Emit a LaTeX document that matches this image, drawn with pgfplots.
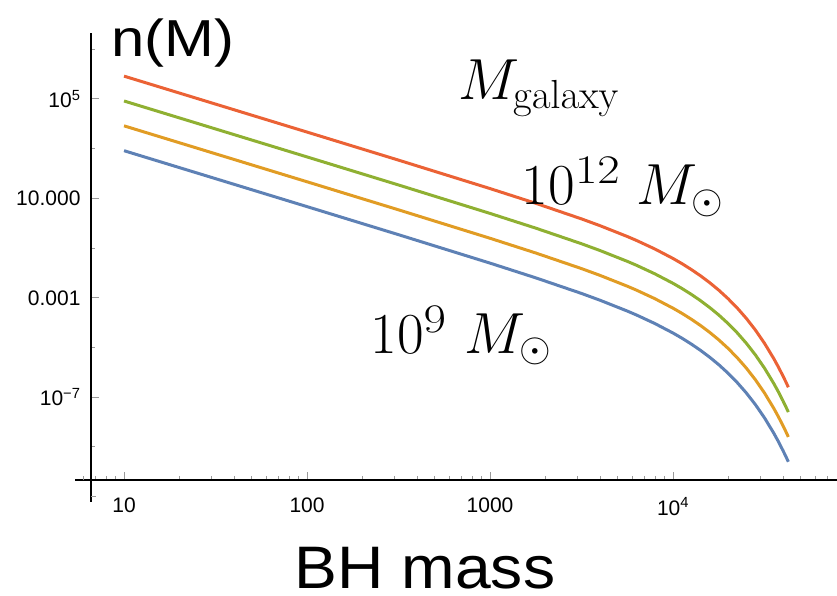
\RequirePackage{fix-cm}
\documentclass[border=0pt]{standalone}
\usepackage[no-math]{fontspec}
\setmainfont{Liberation Sans}
\usepackage{pgfplots}
\pgfplotsset{compat=1.18}
\definecolor{mblue}{RGB}{94,129,181}
\definecolor{morange}{RGB}{225,156,36}
\definecolor{mgreen}{RGB}{143,176,50}
\definecolor{mred}{RGB}{235,98,53}
\newcommand{\wsup}[1]{\scalebox{1.2}[1]{$\scriptstyle #1$}}
\begin{document}
\begin{tikzpicture}
\useasboundingbox (0,0) rectangle (837pt,596pt);
\begin{axis}[
  at={(91pt,116pt)}, anchor=south west,
  scale only axis, width=746pt, height=447pt,
  xmode=log, ymode=log,
  xmin=6.60, xmax=78700, ymin=4.66e-11, ymax=4.53e7,
  axis x line*=bottom, axis y line*=left,
  axis line style={black, line width=2.4pt, -},
  clip=false,
  tick align=inside,
  major tick length=8pt, minor tick length=4.5pt,
  tick style={gray!80, line width=1pt},
  xtick={10,100,1000,10000},
  xticklabels={10,100,1000,\raisebox{4pt}{10\textsuperscript{4}}},
  minor xtick={7,8,9,20,30,40,50,60,70,80,90,200,300,400,500,600,700,800,900,2000,3000,4000,5000,6000,7000,8000,9000,20000,30000,40000,50000,60000,70000},
  ytick={1e5,10,1e-3,1e-7},
  yticklabels={10\textsuperscript{5},10.000,0.001,10\textsuperscript{−7}},
  minor ytick={1e7,1e3,1e-1,1e-5,1e-9},
  xticklabel style={font=\fontsize{21}{25}\selectfont, anchor=north, yshift=-14pt},
  yticklabel style={font=\fontsize{21}{25}\selectfont, anchor=east, xshift=-7pt},
]
\draw[black, line width=2.4pt] (axis cs:5.4,4.66e-11) -- (axis cs:7,4.66e-11);
\draw[black, line width=2.4pt] (axis cs:6.6,6.07e-12) -- (axis cs:6.6,1e-10);
\draw[gray!80, line width=1pt] (axis cs:6,4.66e-11) -- ([yshift=4.5pt]axis cs:6,4.66e-11);
\draw[gray!80, line width=1pt] (axis cs:6.6,1e-11) -- ([xshift=4.5pt]axis cs:6.6,1e-11);

\addplot[mblue, line width=3pt, line join=round] table {
x y
10 8.318e2
31.62 6.237e1
100 4.667e0
316.2 3.467e-1
1000 2.486e-2
1778 6.353e-3
3162 1.496e-3
3981 8.035e-4
5623 2.931e-4
6310 2.037e-4
7943 9.268e-5
10000 3.819e-5
11220 2.339e-5
12589 1.371e-5
14125 7.691e-6
15849 4.074e-6
17783 2.028e-6
19953 9.333e-7
22387 3.936e-7
25119 1.496e-7
28184 5.035e-8
31623 1.466e-8
35481 3.614e-9
37584 1.671e-9
39811 7.311e-10
41210 4.345e-10
42658 2.518e-10
};
\addplot[morange, line width=3pt, line join=round] table {
x y
10 8.318e3
31.62 6.237e2
100 4.667e1
316.2 3.467e0
1000 2.486e-1
1778 6.353e-2
3162 1.496e-2
3981 8.035e-3
5623 2.931e-3
6310 2.037e-3
7943 9.268e-4
10000 3.819e-4
11220 2.339e-4
12589 1.371e-4
14125 7.691e-5
15849 4.074e-5
17783 2.028e-5
19953 9.333e-6
22387 3.936e-6
25119 1.496e-6
28184 5.035e-7
31623 1.466e-7
35481 3.614e-8
37584 1.671e-8
39811 7.311e-9
41210 4.345e-9
42658 2.518e-9
};
\addplot[mgreen, line width=3pt, line join=round] table {
x y
10 8.318e4
31.62 6.237e3
100 4.667e2
316.2 3.467e1
1000 2.486e0
1778 6.353e-1
3162 1.496e-1
3981 8.035e-2
5623 2.931e-2
6310 2.037e-2
7943 9.268e-3
10000 3.819e-3
11220 2.339e-3
12589 1.371e-3
14125 7.691e-4
15849 4.074e-4
17783 2.028e-4
19953 9.333e-5
22387 3.936e-5
25119 1.496e-5
28184 5.035e-6
31623 1.466e-6
35481 3.614e-7
37584 1.671e-7
39811 7.311e-8
41210 4.345e-8
42658 2.518e-8
};
\addplot[mred, line width=3pt, line join=round] table {
x y
10 8.318e5
31.62 6.237e4
100 4.667e3
316.2 3.467e2
1000 2.486e1
1778 6.353e0
3162 1.496e0
3981 8.035e-1
5623 2.931e-1
6310 2.037e-1
7943 9.268e-2
10000 3.819e-2
11220 2.339e-2
12589 1.371e-2
14125 7.691e-3
15849 4.074e-3
17783 2.028e-3
19953 9.333e-4
22387 3.936e-4
25119 1.496e-4
28184 5.035e-5
31623 1.466e-5
35481 3.614e-6
37584 1.671e-6
39811 7.311e-7
41210 4.345e-7
42658 2.518e-7
};
\end{axis}
\node[anchor=base west, inner sep=0, font=\fontsize{52}{60}\selectfont] at (111pt,539.3pt) {\scalebox{1.15}[1]{n(M)}};
\node[anchor=base, inner sep=0, font=\fontsize{60}{66}\selectfont] at (425pt,7.7pt) {\scalebox{1.07}[1]{BH mass}};
\node[anchor=base west, inner sep=0, font=\fontsize{58}{64}\selectfont] at (458pt,496pt) {$M_{\mathrm{galaxy}}$};
\node[anchor=base west, inner sep=0, font=\fontsize{58}{64}\selectfont] at (521.6pt,391pt) {$10^{\wsup{12}}\hspace{16pt}M_{\odot}$};
\node[anchor=base west, inner sep=0, font=\fontsize{58}{64}\selectfont] at (370.3pt,242.7pt) {$10^{\wsup{9}}\hspace{18pt}M_{\odot}$};
\end{tikzpicture}
\end{document}
